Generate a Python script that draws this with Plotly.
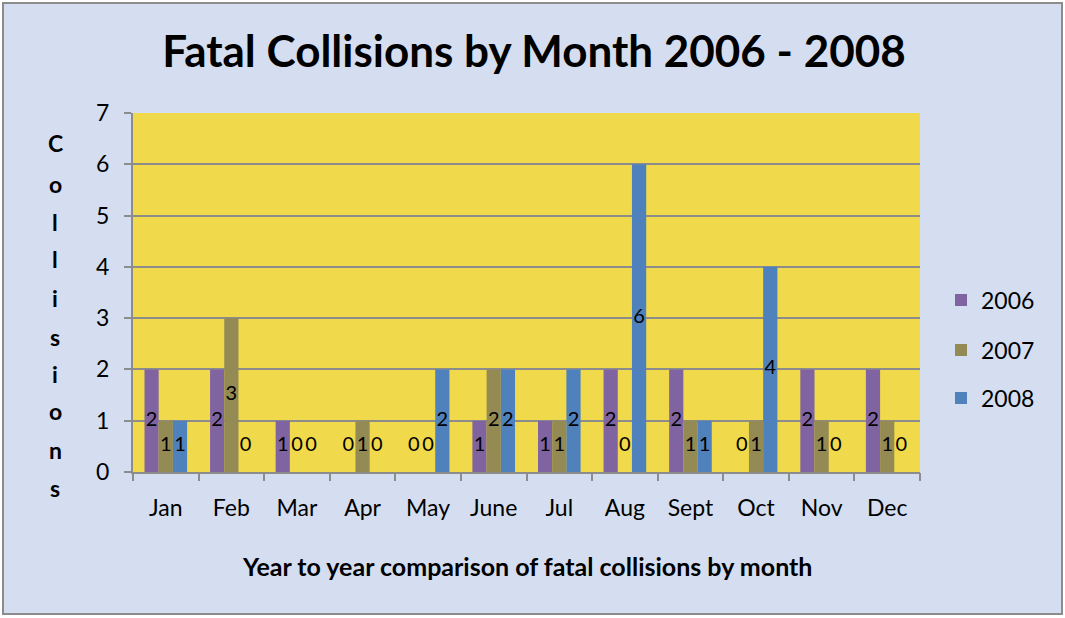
import plotly.graph_objects as go

months = ["Jan", "Feb", "Mar", "Apr", "May", "June", "Jul", "Aug", "Sept", "Oct", "Nov", "Dec"]
years = ["2006", "2007", "2008"]
v2006 = [2, 2, 1, 0, 0, 1, 1, 2, 2, 0, 2, 2]
v2007 = [1, 3, 0, 1, 0, 2, 1, 0, 1, 1, 1, 1]
v2008 = [1, 0, 0, 0, 2, 2, 2, 6, 1, 4, 0, 0]
y_ticks = [0, 1, 2, 3, 4, 5, 6, 7]
title = "Fatal Collisions by Month 2006 - 2008"
x_title = "Year to year comparison of fatal collisions by month"
y_title = "Collisions"

colors = ["#8064A2", "#948A54", "#4F81BD"]
FONT = "Lato"
W, H = 1065, 618
L, R, T, B = 133, 920, 113, 472
bargap = 0.35
bw = (1 - bargap) / 3


def px_x(p):
    return (p - L) / (R - L)


def px_y(p):
    return (B - p) / (B - T)


fig = go.Figure()
xs = list(range(len(months)))
series = [v2006, v2007, v2008]
for k, (name, vals) in enumerate(zip(years, series)):
    fig.add_trace(go.Bar(
        x=xs, y=vals, name=name, marker=dict(color=colors[k], line=dict(width=0)),
        legend="legend" if k == 0 else f"legend{k+1}", hoverinfo="skip",
    ))
for k, vals in enumerate(series):
    fig.add_trace(go.Scatter(
        x=[i + (k - 1) * bw for i in xs],
        y=[max(v / 2, 0.5) for v in vals],
        text=[str(v) for v in vals], mode="text", showlegend=False,
        textfont=dict(family=FONT, size=20, color="#000000"), hoverinfo="skip",
    ))

ann = []
ys_letter = [143, 184, 222, 259, 298, 337, 374, 411, 450, 488]
for ch, yp in zip(y_title, ys_letter):
    ann.append(dict(text=f"<b>{ch}</b>", xref="paper", yref="paper",
                    x=px_x(55), y=px_y(yp),
                    showarrow=False, xanchor="center", yanchor="middle",
                    font=dict(family=FONT, size=23, color="#000000")))
ann.append(dict(text=f"<b>{x_title}</b>", xref="paper", yref="paper",
                x=px_x(527), y=px_y(566),
                showarrow=False, xanchor="center", yanchor="middle",
                font=dict(family=FONT, size=25, color="#000000")))

legend_common = dict(xref="container", yref="container", xanchor="left", yanchor="middle",
                     bgcolor="rgba(0,0,0,0)", font=dict(family=FONT, size=23, color="#000000"))
leg_y = [300, 350, 398]
layout_legends = {}
for k in range(3):
    key = "legend" if k == 0 else f"legend{k+1}"
    layout_legends[key] = dict(x=941 / W, y=1 - leg_y[k] / H, **legend_common)

fig.update_layout(
    width=W, height=H, autosize=False,
    margin=dict(l=L, r=W - R, t=T, b=H - B),
    paper_bgcolor="#FFFFFF", plot_bgcolor="#F0D94A",
    barmode="group", bargap=bargap, bargroupgap=0,
    title=dict(text=f"<b>{title}</b>", x=534 / W, xanchor="center", xref="container",
               y=1 - 52 / H, yref="container", yanchor="middle",
               font=dict(family=FONT, size=44, color="#000000")),
    xaxis=dict(range=[-0.5, len(months) - 0.5], tickvals=xs, ticktext=months,
               ticks="", showgrid=False, zeroline=False, showline=True,
               linecolor="#8C8C8C", linewidth=2,
               tickfont=dict(family=FONT, size=23, color="#000000"), ticklabelstandoff=14),
    xaxis2=dict(range=[-0.5, len(months) - 0.5], overlaying="x", anchor="y", side="bottom",
                tickvals=[i - 0.5 for i in range(len(months) + 1)], showticklabels=False,
                ticks="outside", ticklen=8, tickwidth=2, tickcolor="#8C8C8C",
                showgrid=False, zeroline=False, showline=False),
    yaxis=dict(range=[0, 7], tickvals=y_ticks, ticks="outside", ticklen=7, tickwidth=2,
               tickcolor="#8C8C8C", showgrid=True, gridcolor="#8C8C8C", gridwidth=2,
               zeroline=False, showline=True, linecolor="#8C8C8C", linewidth=2,
               tickfont=dict(family=FONT, size=23, color="#000000"), ticklabelstandoff=10),
    annotations=ann,
    shapes=[
        dict(type="rect", xref="paper", yref="paper",
             x0=px_x(3), x1=px_x(1062), y0=px_y(614), y1=px_y(3),
             line=dict(color="#8C8C8C", width=2), fillcolor="#D4DEF0", layer="below"),
        dict(type="rect", xref="paper", yref="paper", x0=0, x1=1, y0=0, y1=1,
             line=dict(width=0), fillcolor="#F0D94A", layer="below"),
    ],
    **layout_legends,
)
fig.add_trace(go.Scatter(x=[0], y=[0], xaxis="x2", mode="markers", marker=dict(opacity=0),
                         showlegend=False, hoverinfo="skip"))
fig.write_html("out.html", config={"displayModeBar": False},
               post_script="document.body.style.margin='0';")
